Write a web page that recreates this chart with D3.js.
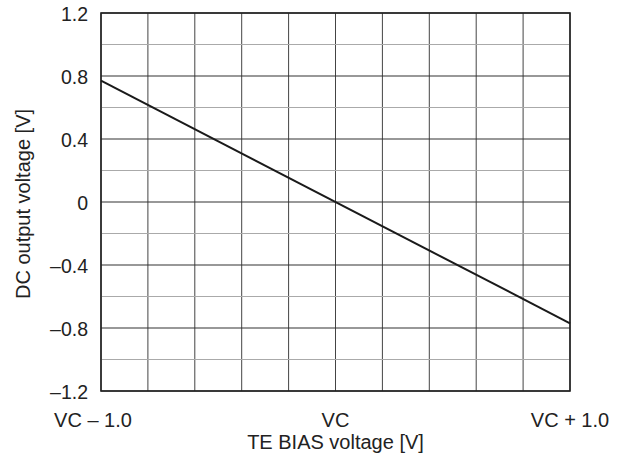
<!DOCTYPE html>
<html><head><meta charset="utf-8">
<script src="https://cdn.jsdelivr.net/npm/d3@7"></script>
<style>body{margin:0;background:#fff}text{font-family:"Liberation Sans",Arial,sans-serif;fill:#222}</style>
</head><body><svg id="c" width="626" height="461"></svg>
<script>
const xValues = [-1.0, 1.0];
const yValues = [0.77, -0.77];
const xTicks = [-1, 0, 1];
const xTickLabels = ["VC \u2013 1.0", "VC", "VC + 1.0"];
const yTicks = [-1.2, -0.8, -0.4, 0, 0.4, 0.8, 1.2];
const yTickLabels = ["\u20131.2", "\u20130.8", "\u20130.4", "0", "0.4", "0.8", "1.2"];
const xTitle = "TE BIAS voltage [V]";
const yTitle = "DC output voltage [V]";

const svg = d3.select("#c");
const L = 101, R = 570, T = 13, B = 391;
const x = d3.scaleLinear().domain([-1, 1]).range([L, R]);
const y = d3.scaleLinear().domain([-1.2, 1.2]).range([B, T]);

const vgrid = d3.range(-1, 1.0001, 0.2);
svg.append("g").selectAll("line").data(vgrid).join("line")
  .attr("x1", d => x(d)).attr("x2", d => x(d)).attr("y1", T).attr("y2", B)
  .attr("stroke", "#444").attr("stroke-width", 1);
const hgrid = d3.range(-1.2, 1.2001, 0.2);
svg.append("g").selectAll("line").data(hgrid).join("line")
  .attr("x1", L).attr("x2", R).attr("y1", d => y(d)).attr("y2", d => y(d))
  .attr("stroke", (d, i) => i % 2 === 0 ? "#333" : "#aaa").attr("stroke-width", 1.2);

svg.append("rect").attr("x", L).attr("y", T).attr("width", R - L).attr("height", B - T)
  .attr("fill", "none").attr("stroke", "#222").attr("stroke-width", 1.6);

const pts = xValues.map((v, i) => [v, yValues[i]]);
svg.append("path").datum(pts)
  .attr("d", d3.line().x(d => x(d[0])).y(d => y(d[1])))
  .attr("fill", "none").attr("stroke", "#1a1a1a").attr("stroke-width", 2);

svg.append("g").selectAll("text").data(yTicks).join("text")
  .attr("x", 88).attr("y", d => y(d) + 1).attr("dy", "0.35em").attr("text-anchor", "end")
  .attr("font-size", 19.5).text((d, i) => yTickLabels[i]);

svg.append("g").selectAll("text").data(xTicks).join("text")
  .attr("x", d => x(d)).attr("dx", (d, i) => i === 0 ? -8 : 0)
  .attr("y", 420).attr("dy", "0.35em").attr("text-anchor", "middle")
  .attr("font-size", 20).text((d, i) => xTickLabels[i]);

svg.append("text").attr("x", x(0)).attr("y", 442).attr("dy", "0.35em")
  .attr("text-anchor", "middle").attr("font-size", 20).text(xTitle);
svg.append("text").attr("transform", "translate(23,204) rotate(-90)")
  .attr("dy", "0.35em").attr("text-anchor", "middle").attr("font-size", 20).text(yTitle);
</script></body></html>
